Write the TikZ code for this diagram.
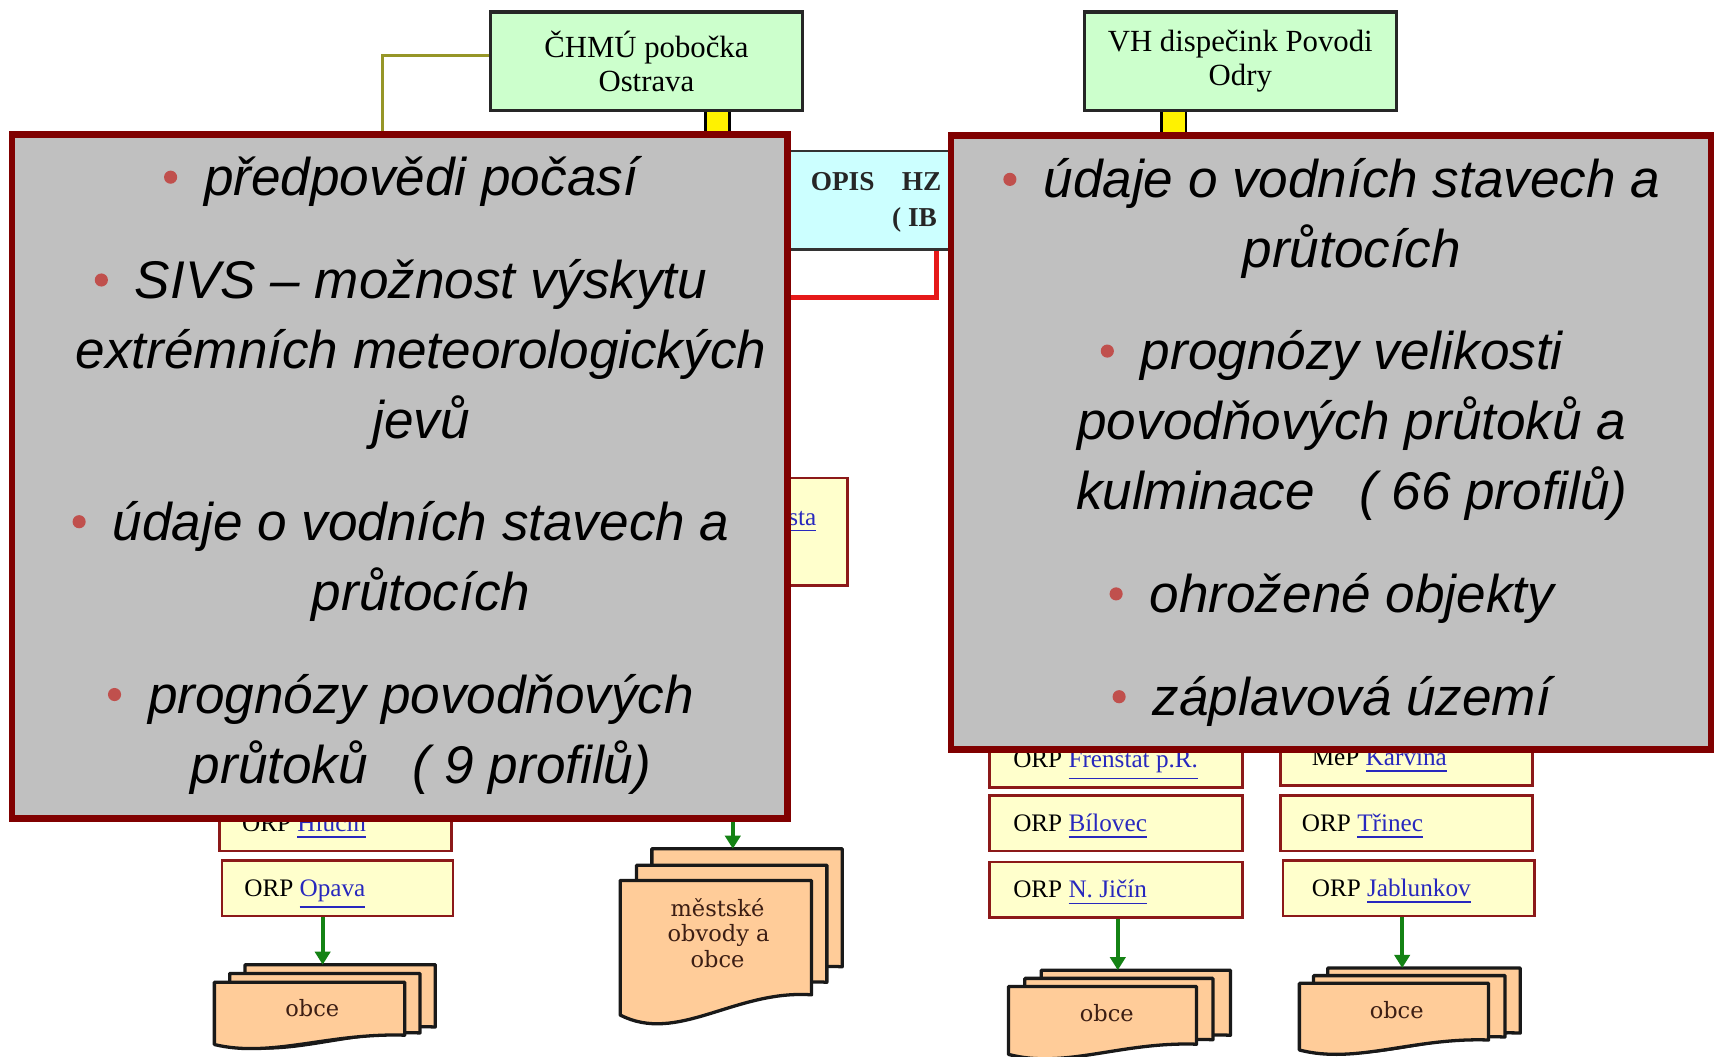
\documentclass[tikz,border=0pt]{standalone}
\usepackage{fontspec}
\setmainfont{Liberation Serif}
\newfontfamily\ovl{Liberation Sans}
\newfontfamily\ser{Liberation Serif}
\newfontfamily\docf{DejaVu Serif}
\usetikzlibrary{arrows.meta}
\definecolor{ovborder}{RGB}{128,0,0}
\definecolor{ovfill}{RGB}{192,192,192}
\definecolor{bulletc}{RGB}{192,80,77}
\definecolor{boxgreen}{RGB}{204,255,204}
\definecolor{boxcyan}{RGB}{204,255,255}
\definecolor{orpfill}{RGB}{255,255,204}
\definecolor{orpred}{RGB}{140,25,25}
\definecolor{sheetfill}{RGB}{255,204,153}
\definecolor{lnkblue}{RGB}{40,40,190}
\definecolor{arrgreen}{RGB}{20,130,20}
\definecolor{olivec}{RGB}{150,150,40}
\definecolor{redl}{RGB}{230,25,25}
\definecolor{docink}{RGB}{60,30,20}
\newcommand\lnk[1]{{\color{lnkblue}\underline{#1}}}
\newcommand\docsheet[4]{%
  \filldraw[sheet] (#1,#2) -- ({#1+#3},#2) -- ({#1+#3},{#2+0.85*#4})
    .. controls ({#1+0.6*#3},{#2+0.81*#4}) and ({#1+0.3*#3},{#2+1.22*#4}) .. (#1,{#2+#4}) -- cycle;}
\tikzset{
  topbox/.style={draw=black!85, fill=boxgreen, line width=0.03cm, minimum width=2.85cm,
    minimum height=0.9cm, align=center, inner sep=0pt, font=\ser\fontsize{8}{8.7}\selectfont},
  ybar/.style={fill=yellow, draw=black, line width=0.02cm},
  oliveline/.style={draw=olivec, line width=0.03cm},
  opisbox/.style={draw=black!80, fill=boxcyan, line width=0.025cm, minimum width=3cm, minimum height=0.9cm},
  opisfont/.style={font=\ser\bfseries\fontsize{7.1}{8}\selectfont, inner sep=0pt, text=black!85},
  redline/.style={draw=redl, line width=0.05cm},
  orp/.style={draw=orpred, fill=orpfill, line width=0.025cm, minimum height=0.51cm, inner sep=0pt},
  orptext/.style={font=\ser\fontsize{6.55}{7.5}\selectfont, inner sep=0pt, anchor=base west},
  sheet/.style={fill=sheetfill, draw=black!90, line width=0.03cm, line join=round},
  doctext/.style={font=\docf\fontsize{5.85}{6.7}\selectfont, text=docink, inner sep=0pt, anchor=base},
  garrow/.style={draw=arrgreen, line width=0.037cm, -{Triangle[length=0.12cm,width=0.14cm]}},
  ovbox/.style={draw=ovborder, fill=ovfill, line width=0.06cm},
  ovtext/.style={font=\ovl\itshape\fontsize{13.8}{16.6}\selectfont, inner sep=0pt, anchor=base},
  dot/.style={fill=bulletc}
}
\newcommand\bulletfor[1]{\fill[dot] ([xshift=-0.30cm,yshift=0.17cm]#1.base west) circle[radius=0.06cm];}
% box name, text name, inset (cm), text
\newcommand\orplabel[4]{\node[orptext] (#2) at ([xshift=#3cm,yshift=-0.075cm]#1.west) {#4};}
\begin{document}
\begin{tikzpicture}[x=0.01cm,y=-0.01cm]
\useasboundingbox (0,0) rectangle (1568,966);
\fill[white] (0,0) rectangle (1568,966);

% ---------- top boxes and connectors ----------
\draw[ybar] (645,101) rectangle (667,132);
\draw[ybar] (1062,101) rectangle (1084,132);
\node[topbox] (chmu) at (591,56) {ČHMÚ pobočka\\Ostrava};
\node[topbox] (vh) at (1134,56) {VH dispečink Povodi\\Odry};
\coordinate (olend) at (350,140);
\draw[oliveline] ([yshift=0.05cm]chmu.west) -| (olend);

\node[opisbox] (opis) at (850,183) {};
\node[opisfont, anchor=base west] (opis1) at (740.6,174) {OPIS\hspace{1em}HZ};
\node[opisfont, anchor=base west] (opis2) at (815,207) {( IB};
\coordinate (rc) at (856,272);
\coordinate (rl) at (700,272);
\draw[redline] (opis.south -| rc) -- (rc) -- (rl);

\node[draw=orpred, fill=orpfill, line width=0.025cm, minimum width=0.75cm, minimum height=0.98cm] (sta) at (737.5,486) {};
\node[font=\ser\fontsize{6.55}{7.5}\selectfont, inner sep=0pt, anchor=base east] (statext) at (747,480) {\lnk{sta}};

% ---------- ORP boxes ----------
\node[orp, minimum width=2.12cm] (hlucin) at (307,752.5) {};
\node[orp, minimum width=2.11cm] (opava) at (308.5,812) {};
\node[orp, minimum width=2.31cm] (frenstat) at (1020.5,694.5) {};
\node[orp, minimum width=2.31cm] (bilovec) at (1020.5,752.5) {};
\node[orp, minimum width=2.31cm] (jicin) at (1020.5,813.5) {};
\node[orp, minimum width=2.30cm] (karvina) at (1286,692.5) {};
\node[orp, minimum width=2.30cm] (trinec) at (1286,752.5) {};
\node[orp, minimum width=2.30cm] (jablunkov) at (1288,812) {};
\orplabel{hlucin}{hlucinT}{0.21}{ORP \lnk{Hlučín}}
\orplabel{opava}{opavaT}{0.21}{ORP \lnk{Opava}}
\orplabel{frenstat}{frenstatT}{0.22}{ORP \lnk{Frenštát p.R.}}
\orplabel{bilovec}{bilovecT}{0.22}{ORP \lnk{Bílovec}}
\orplabel{jicin}{jicinT}{0.22}{ORP \lnk{N. Jičín}}
\orplabel{karvina}{karvinaT}{0.29}{MěP \lnk{Karviná}}
\orplabel{trinec}{trinecT}{0.20}{ORP \lnk{Třinec}}
\orplabel{jablunkov}{jablunkovT}{0.27}{ORP \lnk{Jablunkov}}

% ---------- document stacks ----------
\docsheet{224}{882}{174}{67}
\docsheet{210}{890}{174}{64}
\docsheet{196}{898}{174}{57}
\node[doctext] (obceL) at (285.5,929.5) {obce};
\coordinate (stL) at (295,882);

\docsheet{596}{776}{174}{127}
\docsheet{582}{791}{174}{126}
\docsheet{567}{805}{175}{123}
\node[doctext] (m1) at (656,838) {městské};
\node[doctext] (m2) at (657,861) {obvody a};
\node[doctext] (m3) at (656,885) {obce};
\coordinate (stM) at (670,776);

\docsheet{952}{887}{173}{70}
\docsheet{937}{894.5}{172}{66}
\docsheet{922}{902}{172}{62}
\node[doctext] (obceJ) at (1012,934) {obce};
\coordinate (stJ) at (1022,887);

\docsheet{1214}{885}{176}{70}
\docsheet{1201}{892}{175}{66}
\docsheet{1188}{899}{173}{61}
\node[doctext] (obceB) at (1277,931) {obce};
\coordinate (stB) at (1282,885);

\draw[garrow] (opava.south -| stL) -- (stL);
\draw[garrow] (jicin.south -| stJ) -- (stJ);
\draw[garrow] (jablunkov.south -| stB) -- (stB);

% ---------- overlay boxes ----------
\node[ovbox, minimum width=7.09cm, minimum height=6.25cm] (ovL) at (365.5,435.5) {};
\node[ovbox, minimum width=6.945cm, minimum height=5.61cm] (ovR) at (1216.75,404.5) {};
\draw[garrow] (ovL.south -| stM) -- (stM);

% left overlay text
\node[ovtext] (l1) at (385,179) {předpovědi počasí};
\node[ovtext] (l2) at (385,273) {SIVS – možnost výskytu};
\node[ovtext] (l3) at (385,337) {extrémních meteorologických};
\node[ovtext] (l4) at (385,401) {jevů};
\node[ovtext] (l5) at (385,494) {údaje o vodních stavech a};
\node[ovtext] (l6) at (385,558) {průtocích};
\node[ovtext] (l7) at (385,652) {prognózy povodňových};
\node[ovtext] (l8) at (385,716) {průtoků~~~( 9 profilů)};
\bulletfor{l1}
\bulletfor{l2}
\bulletfor{l5}
\bulletfor{l7}

% right overlay text
\node[ovtext] (r1) at (1236,181) {údaje o vodních stavech a};
\node[ovtext] (r2) at (1236,245) {průtocích};
\node[ovtext] (r3) at (1236,338) {prognózy velikosti};
\node[ovtext] (r4) at (1236,402) {povodňových průtoků a};
\node[ovtext] (r5) at (1236,466) {kulminace~~~( 66 profilů)};
\node[ovtext] (r6) at (1236,560) {ohrožené objekty};
\node[ovtext] (r7) at (1236,654) {záplavová území};
\bulletfor{r1}
\bulletfor{r3}
\bulletfor{r6}
\bulletfor{r7}
\end{tikzpicture}
\end{document}
